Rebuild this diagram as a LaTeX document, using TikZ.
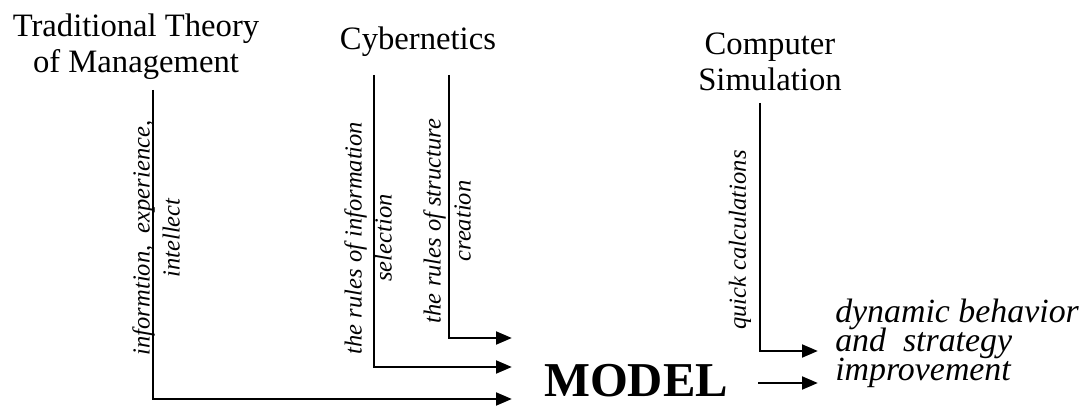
\documentclass[tikz,border=0pt]{standalone}
\usepackage{fontspec}
\setmainfont{Liberation Serif}
\usetikzlibrary{arrows.meta}
\tikzset{
  head/.style={align=center, inner sep=0pt, font=\fontsize{24.5}{27}\selectfont},
  via/.style={rotate=90, align=center, inner sep=0pt, font=\fontsize{18.4}{22.5}\selectfont\itshape},
  flow/.style={line width=2.2pt, -{Triangle[length=12pt,width=9.5pt]}},
  tight/.style={execute at begin node={\lineskiplimit=-50pt\lineskip=0pt\relax}},
}
\begin{document}
\begin{tikzpicture}[x=0.75pt,y=-0.75pt]
    \useasboundingbox (0,0) rectangle (1083,406);
    % Traditional theory
    \node[head, anchor=base] (ttm) at (136,73) {Traditional Theory\\of Management};
    \coordinate (ttm top) at (153,90);
    \coordinate (ttm end) at (512,399);
    \draw[flow] (ttm top) |- (ttm end);
    \node[via] (ttm via) at (156,238) {informtion,\ \ experience,\\intellect};
    % Cybernetics
    \node[head, anchor=base] (cyb) at (418,50) {Cybernetics};
    \coordinate (sel top) at (374,75);
    \coordinate (sel end) at (512,367);
    \coordinate (str top) at (449,75);
    \coordinate (str end) at (512,338);
    \draw[flow] (sel top) |- (sel end);
    \draw[flow] (str top) |- (str end);
    \node[via] (sel via) at (368,238) {the rules of information\\selection};
    \node[via] (str via) at (447,221) {the rules of structure\\creation};
    % Computer simulation
    \node[head, anchor=base] (sim) at (770,91) {Computer\\Simulation};
    \coordinate (sim top) at (760,103);
    \coordinate (sim end) at (818,351);
    \draw[flow] (sim top) |- (sim end);
    \node[via] (sim via) at (740,240) {quick calculations};
    % Model
    \node[anchor=base, inner sep=0pt, font=\fontsize{36.5}{36}\selectfont\bfseries] (model) at (636,397) {MODEL};
    \coordinate (model out) at (758,383);
    \coordinate (model end) at (818,383);
    \draw[flow] (model out) -- (model end);
    % Result
    \node[tight, anchor=base west, align=left, inner sep=0pt, font=\fontsize{25.4}{21.4}\selectfont\itshape] (result) at (835,380) {dynamic behavior\\and\ \ strategy\\improvement};
\end{tikzpicture}
\end{document}
